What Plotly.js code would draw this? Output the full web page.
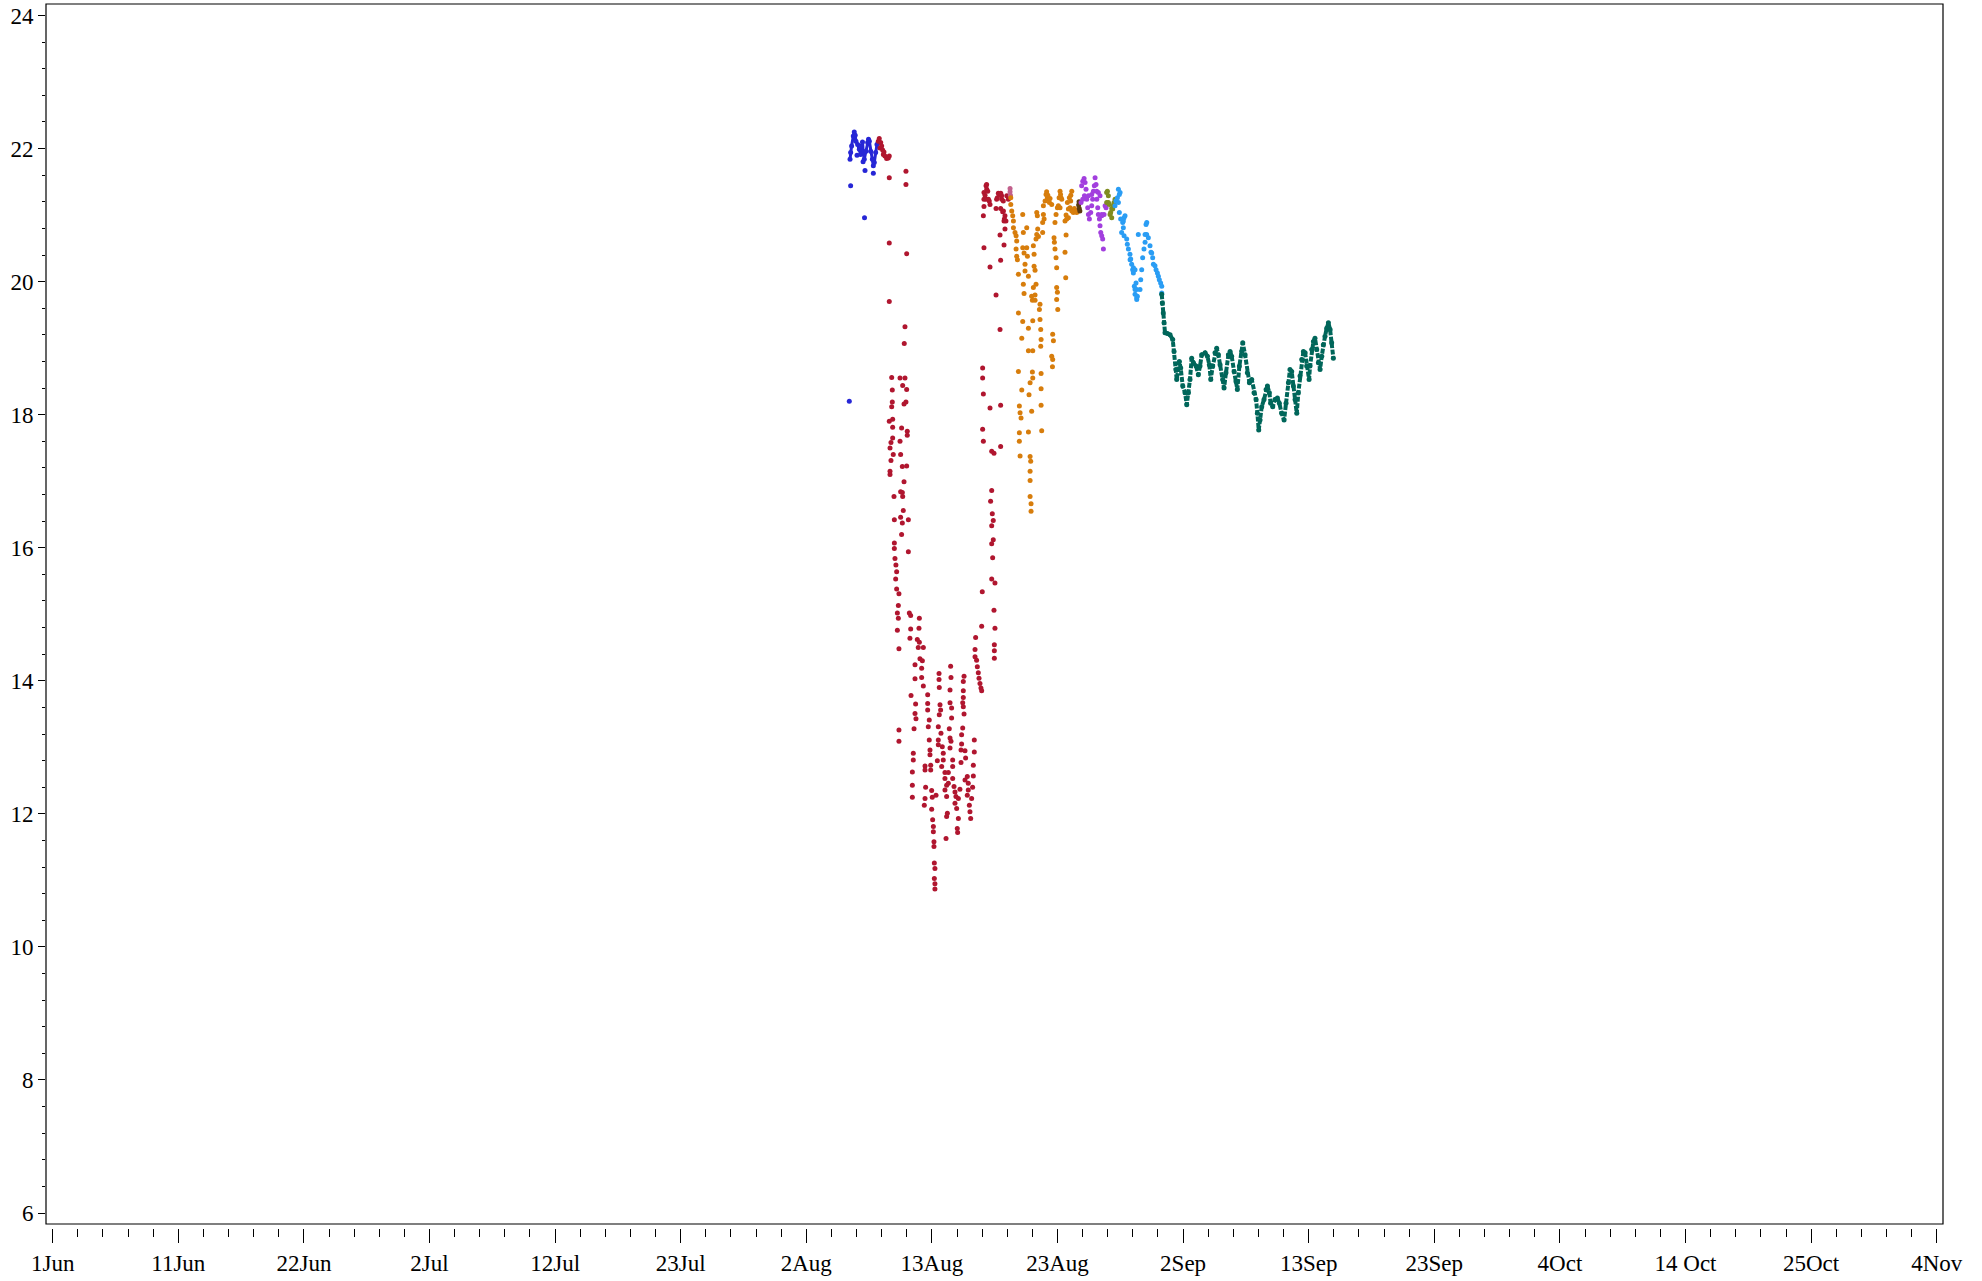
<!DOCTYPE html>
<html><head><meta charset="utf-8">
<script src="https://cdn.plot.ly/plotly-3.0.1.min.js"></script>
<style>html,body{margin:0;padding:0;background:#fff}#chart{width:1982px;height:1281px}</style>
</head><body><div id="chart"></div>
<script>
// Days are counted from 1 June (day 0); values are temperatures.
const startDate = Date.UTC(2023, 5, 1);
const tickLabels = ['1Jun','11Jun','22Jun','2Jul','12Jul','23Jul','2Aug','13Aug','23Aug','2Sep','13Sep','23Sep','4Oct','14 Oct','25Oct','4Nov'];
const tickStepDays = 10.4;

const blueCore = [[66.02,21.84],[66.07,21.94],[66.15,22.04],[66.29,22.19],[66.37,22.25],[66.45,22.20],[66.51,22.11],[66.65,22.06],[66.79,21.99],[66.90,21.91],[66.98,22.04],[67.05,22.10],[67.12,21.94],[67.20,21.84],[67.34,21.96],[67.48,22.09],[67.55,22.14],[67.62,22.11],[67.73,21.96],[67.87,21.84],[67.95,21.74],[68.03,21.79],[68.14,21.94],[68.25,22.06],[68.36,22.09]];
const blueOutliers = [[66.07,21.44],[67.26,21.67],[67.95,21.63],[67.22,20.96],[65.96,18.20],[67.10,21.80],[66.60,21.90]];

const crimson = [
[68.36,22.11],[68.44,22.15],[68.50,22.01],[68.56,22.09],[68.64,22.04],[68.72,21.98],[68.78,21.91],[68.83,21.95],[68.91,21.89],[69.05,21.85],[69.19,21.86],[69.27,21.89],
[70.65,21.66],[70.65,21.46],[69.27,21.56],[69.27,20.58],[70.71,20.42],[69.27,19.70],[70.57,19.32],[70.51,19.07],
[69.47,18.56],[69.52,18.37],[69.52,18.19],[69.47,18.12],[69.27,17.90],[69.55,17.93],[69.55,17.81],[69.55,17.65],[69.41,17.58],[69.33,17.50],[69.60,17.40],[69.41,17.31],[69.33,17.15],[69.33,17.10],[69.66,16.77],[69.69,16.42],[69.69,16.07],[69.69,15.99],
[70.16,18.55],[70.57,18.55],[70.38,18.44],[70.71,18.38],[70.65,18.19],[70.49,18.16],[70.76,17.75],[70.76,17.69],[70.29,17.80],[70.16,17.60],[70.21,17.40],[70.35,17.22],[70.71,17.23],[70.49,16.99],[70.21,16.84],[70.35,16.83],[70.38,16.77],[70.43,16.56],[70.21,16.46],[70.35,16.37],[70.85,16.42],[70.29,16.20],
[69.74,15.84],[69.82,15.74],[69.88,15.64],[69.80,15.53],[69.88,15.38],[70.07,15.31],[70.02,15.13],[69.94,15.02],[70.02,14.94],[69.94,14.76],[70.07,14.48],[70.07,13.26],[70.07,13.09],[70.85,15.94],
[70.93,15.02],[71.04,14.98],[71.76,14.94],[71.04,14.78],[71.73,14.79],[70.98,14.64],[71.59,14.62],[71.76,14.58],[71.67,14.50],[72.09,14.50],[71.81,14.33],[72.01,14.30],[71.40,14.24],[71.95,14.19],[71.40,14.03],[71.95,14.05],[72.09,13.92],[71.07,13.78],[71.45,13.65],[71.40,13.51],[71.48,13.43],[71.32,13.28],[71.26,12.91],[71.26,12.81],[71.18,12.63],[71.18,12.43],[71.18,12.25],
[72.45,13.79],[72.45,13.66],[72.45,13.56],[72.58,13.41],[72.50,13.31],[72.58,13.11],[72.64,12.96],[72.64,12.89],[72.70,12.73],[72.70,12.66],[72.23,12.72],[72.23,12.66],[72.28,12.40],[72.23,12.23],[72.17,12.13],[72.78,12.35],[72.83,12.25],[72.78,12.07],[72.86,11.91],[72.92,11.81],[72.92,11.73],[72.97,11.58],[72.97,11.51],[73.00,11.26],[73.05,11.18],[73.00,11.03],[73.05,10.95],[73.05,10.87],
[73.39,14.11],[73.39,14.02],[73.41,13.90],[73.47,13.64],[73.52,13.56],[73.41,13.49],[73.33,13.31],[73.55,13.21],[73.33,13.11],[73.33,13.04],[73.66,13.01],[73.74,12.91],[73.74,12.81],[73.25,12.80],[73.61,12.71],[73.88,12.62],[73.88,12.53],[74.02,12.43],[73.88,12.36],[74.02,12.26],[74.08,12.01],[74.02,11.96],[73.97,11.63],[73.14,12.28],
[74.35,14.22],[74.38,14.05],[74.30,13.86],[74.30,13.67],[74.43,13.59],[74.43,13.44],[74.24,13.28],[74.30,13.14],[74.38,13.09],[74.30,12.99],[74.52,12.81],[74.52,12.71],[74.16,12.62],[74.52,12.53],[74.16,12.46],[74.63,12.41],[74.71,12.33],[74.79,12.26],[74.71,12.16],[75.12,12.37],[74.85,12.08],[74.99,11.93],[74.90,11.78],[74.93,11.72],[74.99,12.23],
[75.46,14.07],[75.40,13.99],[75.40,13.85],[75.40,13.75],[75.35,13.67],[75.40,13.61],[75.46,13.50],[75.35,13.29],[75.26,13.19],[75.26,13.05],[75.21,12.96],[75.54,12.95],[75.59,12.84],[75.21,12.77],[75.54,12.51],[75.73,12.56],[75.81,12.36],[75.73,12.28],[76.09,12.23],[75.90,12.13],[75.95,12.03],[76.01,11.93],[76.31,13.11],[76.31,12.93],[76.23,12.73],[76.23,12.57],[76.17,12.40],[75.81,12.46],
[76.42,14.65],[76.37,14.47],[76.37,14.36],[76.50,14.31],[76.56,14.21],[76.64,14.12],[76.70,14.04],[76.78,13.96],[76.86,13.89],[76.92,13.85],[76.92,14.82],[76.97,15.34],[77.83,15.85],[77.75,15.53],[78.02,15.47],[77.94,15.06],[78.02,14.79],[77.97,14.54],[77.97,14.45],[77.97,14.34],
[77.00,18.70],[77.00,18.55],[77.06,18.31],[77.00,17.78],[77.06,17.60],[77.61,18.10],[78.49,18.14],[77.75,17.45],[77.94,17.42],[78.49,17.52],[77.75,16.86],[77.66,16.70],[77.80,16.51],[77.88,16.41],[77.75,16.33],[77.88,16.12],[77.75,16.06],
[77.11,21.34],[77.28,21.44],[77.33,21.46],[77.42,21.36],[77.28,21.24],[77.11,21.24],[77.55,21.21],[77.11,21.13],[77.61,21.16],[77.20,21.30],[78.38,21.31],[78.22,21.26],[78.57,21.29],[78.71,21.21],[78.16,21.24],[78.30,21.33],[78.50,21.33],[79.13,21.24],[79.00,21.29],[77.06,20.99],[78.11,21.10],[78.49,21.10],[78.66,21.05],[78.85,20.99],[78.93,20.91],[78.77,20.91],[78.85,20.79],[78.44,20.70],[78.77,20.55],[77.11,20.51],[78.49,20.32],[77.61,20.22],[78.11,19.80],[78.44,19.28],
[77.34,21.39],[77.48,21.24],[78.58,21.24],[78.72,21.06],[78.80,20.94]
];
const pink = [[79.27,21.40],[79.27,21.35],[79.30,21.30]];

const orange = [
[79.33,21.26],[79.33,21.16],[79.41,21.06],[79.49,20.99],[79.55,20.91],[79.55,20.81],[79.68,20.74],[79.77,20.69],[79.82,20.61],[79.77,20.49],[79.82,20.38],[79.88,20.33],[79.96,20.11],[79.96,19.53],[79.96,18.65],[80.04,18.13],[80.10,18.03],[80.18,17.95],[80.04,17.73],[80.04,17.60],[80.10,17.38],[80.24,18.37],
[80.32,21.01],[80.37,20.74],[80.32,20.51],[80.43,20.43],[80.51,20.26],[80.51,20.16],[80.37,19.96],[80.43,19.82],[80.24,19.15],[80.32,19.40],[80.65,20.81],[80.65,20.51],[80.71,20.38],[80.79,20.08],[80.79,19.30],[80.79,18.96],[80.84,18.30],[80.79,17.74],[80.93,18.48],[80.93,17.37],[80.98,17.30],[80.93,17.15],[80.93,17.01],[80.93,16.77],[81.01,16.66],[81.01,16.55],
[81.06,18.05],[81.15,18.55],[81.06,19.78],[81.12,19.72],[81.20,19.91],[81.26,20.23],[81.20,20.54],[81.26,20.41],[81.34,20.17],[81.42,20.64],[81.48,20.71],[81.56,20.79],[81.62,20.68],[81.42,19.96],[81.34,19.80],[81.34,19.72],[81.53,20.99],[81.48,21.04],[81.15,19.41],[81.15,18.96],[81.12,18.64],
[81.75,19.66],[81.70,19.58],[81.75,19.43],[81.81,19.28],[81.84,19.13],[81.81,19.03],[81.84,18.62],[81.84,18.39],[81.84,18.14],[81.89,17.76],[81.97,20.74],[81.97,20.89],[82.03,21.01],[82.03,21.14],[82.17,21.21],[82.25,21.31],[82.36,21.26],[82.44,21.24],[82.58,21.25],[82.53,21.19],[82.72,21.16],[82.09,20.94],[82.30,21.35],[82.40,21.30],
[82.80,19.21],[82.86,19.11],[82.72,18.88],[82.80,18.83],[82.78,18.72],[82.91,20.66],[82.94,20.59],[82.99,20.49],[83.08,20.36],[83.13,20.21],[83.13,19.91],[83.19,19.84],[83.13,19.73],[83.22,19.58],[82.99,20.89],[83.08,21.01],[83.19,21.11],[83.27,21.14],[83.33,21.26],[83.41,21.36],[83.49,21.26],[83.55,21.24],[83.41,21.11],[83.45,21.31],
[83.82,20.91],[83.91,20.70],[83.82,20.44],[83.88,20.06],[83.91,21.00],[83.96,20.94],[84.10,20.96],[84.02,21.19],[84.18,21.26],[84.29,21.21],[84.24,21.11],[84.38,21.06],[84.51,21.04],[84.65,21.06],[84.79,21.04],[84.93,21.06],[84.38,21.36],[84.10,21.09],[84.30,21.30],[84.60,21.10]
];
const brown = [[84.95,21.15],[85.00,21.10],[85.05,21.06],[84.98,21.20]];

const purple = [
[85.20,21.44],[85.29,21.51],[85.40,21.55],[85.48,21.49],[85.56,21.39],[85.43,21.29],[85.29,21.24],[85.15,21.19],[85.62,21.24],[85.70,21.11],[85.76,21.01],[85.84,20.94],[85.95,21.04],[86.03,21.14],[86.11,21.24],[86.17,21.36],[86.25,21.44],[86.31,21.56],[86.39,21.46],[86.45,21.36],[86.45,21.24],[86.53,21.11],[86.58,21.01],[86.67,20.94],[86.72,20.84],[86.78,20.74],[86.94,20.64],[87.00,20.49],[86.86,21.01],[87.05,21.01],[87.14,21.14],[87.22,21.11],[85.76,21.29],[86.03,21.31],[86.58,21.34],[86.72,21.29],[86.86,20.69],[86.86,20.99]
];
const olive = [[87.27,21.34],[87.33,21.36],[87.41,21.29],[87.27,21.19],[87.41,21.19],[87.49,21.16],[87.55,21.01],[87.60,21.04],[87.69,20.96],[87.69,21.10],[87.77,21.09],[87.83,21.14],[87.88,21.19],[87.96,21.24]];

const sky = [
[87.96,21.14],[88.04,21.21],[88.16,21.26],[88.24,21.39],[88.32,21.31],[88.24,21.19],[88.38,21.34],[88.32,21.04],[88.43,20.94],[88.51,20.74],[88.60,20.89],[88.65,20.81],[88.65,20.91],[88.71,20.96],[88.79,20.99],[88.71,20.69],[88.93,20.64],[88.98,20.56],[89.07,20.49],[89.20,20.41],[89.21,20.33],[89.26,20.34],[89.34,20.26],[89.42,20.18],[89.48,20.13],[89.48,20.21],[89.62,20.18],[89.56,19.93],[89.70,19.98],[89.62,19.81],[89.62,19.88],[89.76,19.88],[89.76,19.76],[89.81,19.78],[89.76,19.73],[90.03,19.88],[90.09,20.03],[90.17,20.18],[90.25,20.36],[90.36,20.49],[90.45,20.59],[90.45,20.71],[90.58,20.71],[90.53,20.86],[90.59,20.89],[90.72,20.66],[90.86,20.54],[90.94,20.44],[91.00,20.43],[91.08,20.36],[91.14,20.26],[91.27,20.24],[91.36,20.18],[91.47,20.13],[91.55,20.08],[91.63,20.03],[91.74,19.98],[91.83,19.93],[91.83,19.83],[89.89,20.71]
];

const teal = [
[91.83,19.81],[91.88,19.68],[91.96,19.53],[92.02,19.38],[92.10,19.23],[92.30,19.22],[92.52,19.20],[92.74,19.13],[92.85,18.95],[93.01,18.68],[93.07,18.53],[93.29,18.80],[93.40,18.70],[93.57,18.43],[93.76,18.33],[93.90,18.15],[94.04,18.33],[94.17,18.53],[94.31,18.85],[94.45,18.78],[94.67,18.73],[94.86,18.60],[95.00,18.73],[95.14,18.90],[95.42,18.93],[95.61,18.88],[95.77,18.75],[95.89,18.53],[96.05,18.73],[96.24,18.93],[96.38,19.00],[96.52,18.90],[96.66,18.75],[96.88,18.53],[96.99,18.40],[97.15,18.63],[97.35,18.90],[97.49,18.95],[97.62,18.88],[97.82,18.65],[97.98,18.50],[98.09,18.38],[98.26,18.73],[98.45,18.95],[98.54,19.08],[98.73,18.90],[98.92,18.63],[99.09,18.48],[99.28,18.53],[99.47,18.33],[99.64,18.23],[99.75,18.02],[99.86,17.77],[99.97,17.92],[100.11,18.12],[100.30,18.23],[100.47,18.38],[100.58,18.43],[100.74,18.33],[100.85,18.17],[101.02,18.12],[101.21,18.23],[101.41,18.25],[101.57,18.17],[101.76,18.02],[101.96,17.92],[102.12,18.17],[102.32,18.48],[102.45,18.68],[102.59,18.65],[102.73,18.43],[102.87,18.23],[103.01,18.02],[103.14,18.33],[103.28,18.58],[103.42,18.83],[103.56,18.95],[103.70,18.93],[103.83,18.73],[104.03,18.53],[104.11,18.73],[104.25,18.98],[104.39,19.10],[104.52,19.15],[104.66,18.98],[104.80,18.78],[104.94,18.68],[105.08,18.88],[105.21,19.05],[105.35,19.18],[105.49,19.30],[105.63,19.38],[105.77,19.28],[105.90,19.08],[106.04,18.85]
];

function toDate(d) {
  return new Date(startDate + d * 86400000).toISOString().slice(0, 19).replace('T', ' ');
}
function trace(data, color, mode, lw, dash) {
  return {
    type: 'scatter', mode: mode,
    x: data.map(p => toDate(p[0])), y: data.map(p => p[1]),
    marker: {color: color, size: 5}, line: {color: color, width: lw || 2, dash: dash || 'solid'},
    hoverinfo: 'skip', showlegend: false
  };
}
const traces = [
  trace(blueCore, '#2626d6', 'lines+markers', 3),
  trace(blueOutliers, '#2626d6', 'markers'),
  trace(crimson, '#b0162f', 'markers'),
  trace(pink, '#c2608c', 'markers'),
  trace(orange, '#d77d0c', 'markers'),
  trace(brown, '#5a3a10', 'markers'),
  trace(purple, '#a23fde', 'markers'),
  trace(olive, '#808c20', 'markers'),
  trace(sky, '#2a9df4', 'markers'),
  trace(teal, '#00665a', 'lines+markers', 4, '5px,1.5px')
];

const tickVals = tickLabels.map((_, i) => toDate(i * tickStepDays));
const serif = '"Liberation Serif", "Times New Roman", Times, serif';
const layout = {
  width: 1982, height: 1281,
  margin: {l: 46, r: 39, t: 4, b: 53, pad: 0},
  paper_bgcolor: '#ffffff', plot_bgcolor: '#ffffff',
  showlegend: false,
  font: {family: serif, size: 23, color: '#000'},
  xaxis: {
    type: 'date', range: [toDate(-0.555), toDate(156.52)],
    anchor: 'free', position: 0,
    showline: false, showgrid: false, zeroline: false,
    tickmode: 'array', tickvals: tickVals, ticktext: tickLabels,
    ticks: 'outside', ticklen: 14, tickwidth: 1, tickcolor: '#000',
    minor: {tick0: toDate(0), dtick: tickStepDays / 5 * 86400000, ticks: 'outside', ticklen: 7.5, tickwidth: 1, tickcolor: '#000', showgrid: false},
    tickfont: {family: serif, size: 23, color: '#000'}
  },
  yaxis: {
    range: [5.835, 24.173], domain: [0.00327, 1],
    showline: false, showgrid: false, zeroline: false,
    tickmode: 'linear', tick0: 6, dtick: 2,
    ticks: 'outside', ticklen: 7, tickwidth: 1, tickcolor: '#000',
    minor: {tick0: 6, dtick: 0.4, ticks: 'outside', ticklen: 3.5, tickwidth: 1, tickcolor: '#000', showgrid: false},
    tickfont: {family: serif, size: 23, color: '#000'}
  },
  shapes: [{type: 'rect', xref: 'x domain', yref: 'y domain', x0: 0, x1: 1, y0: 0, y1: 1,
            line: {color: '#000', width: 1.2}, fillcolor: 'rgba(0,0,0,0)', layer: 'above'}]
};
Plotly.newPlot('chart', traces, layout, {staticPlot: true, displayModeBar: false});
</script>
</body></html>
